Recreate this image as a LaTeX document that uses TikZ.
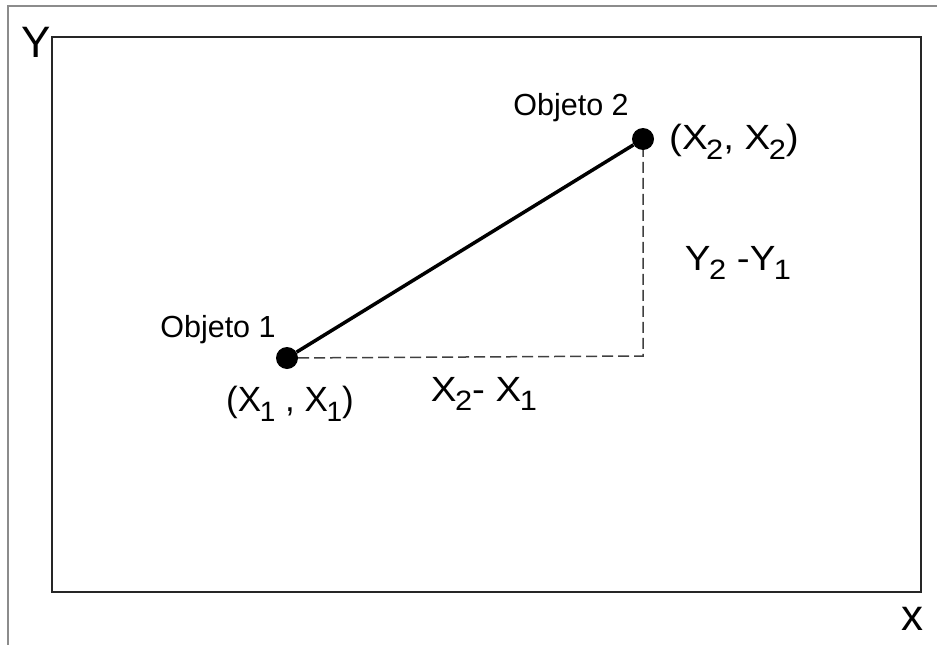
\documentclass[tikz,border=0pt]{standalone}
\usepackage{fontspec}
\setmainfont{Liberation Sans}
\newcommand{\lsub}[1]{\kern-0.04em\raisebox{-0.27em}{\fontsize{28}{28}\selectfont #1}}
\newcommand{\wide}[1]{\scalebox{1.1}[1]{#1}}
\tikzset{
  lbl/.style={font=\fontsize{30.5}{30.5}\selectfont, inner sep=0pt},
  coordlbl/.style={font=\fontsize{35}{35}\selectfont, inner sep=0pt},
  axislbl/.style={font=\fontsize{44}{44}\selectfont, inner sep=0pt},
  dot/.style={circle, fill=black, minimum size=22pt, inner sep=0pt},
  frame/.style={black!85, line width=2.2pt},
  outer/.style={black!45, line width=1.5pt},
  seg/.style={black, line width=3.5pt},
  proj/.style={black!75, line width=1.5pt, dash pattern=on 11pt off 5pt},
}
\begin{document}
\begin{tikzpicture}[x=1pt,y=-1pt]
\useasboundingbox (0,0) rectangle (937,645);
\fill[white] (0,0) rectangle (937,645);
\draw[outer] (8,645) -- (8,6) -- (937,6);
\draw[frame] (52,37) rectangle (921,592);
\node[axislbl] (ylab) at (36,42) {Y};
\node[axislbl] (xlab) at (912,619) {x};
\node[dot] (d1) at (287,358) {};
\node[dot] (d2) at (643,139) {};
\coordinate (c) at (643,356);
\draw[proj] (d1) -- (c) -- (d2);
\draw[seg] (d1) -- (d2);
\node[lbl] (o1) at (218,330) {Objeto 1};
\node[lbl] (o2) at (571,108) {Objeto 2};
\node[coordlbl] (p1) at (290,404) {(X\lsub{1} , X\lsub{1})};
\node[coordlbl] (p2) at (734,142) {\wide{(X\lsub{2}, X\lsub{2})}};
\node[coordlbl] (dx) at (484,394) {\wide{X\lsub{2}- X\lsub{1}}};
\node[coordlbl] (dy) at (738,263) {\wide{Y\lsub{2} -Y\lsub{1}}};
\end{tikzpicture}
\end{document}
